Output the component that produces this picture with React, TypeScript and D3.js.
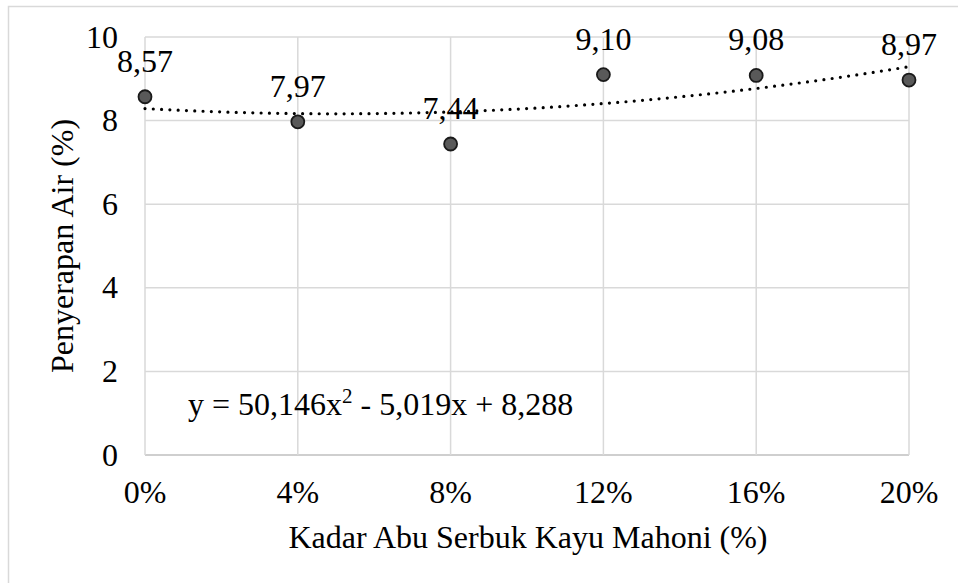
import * as d3 from "d3";
import { useEffect, useRef } from "react";

const kadar = [0, 0.04, 0.08, 0.12, 0.16, 0.2];
const penyerapan = [8.57, 7.97, 7.44, 9.1, 9.08, 8.97];
const yTicks = [0, 2, 4, 6, 8, 10];
const xTicks = [0, 0.04, 0.08, 0.12, 0.16, 0.2];
// trendline coefficients as printed on the chart
const coefA = 50.146;
const coefB = -5.019;
const coefC = 8.288;

const W = 958;
const H = 583;
const FONT = "'Liberation Serif', 'Times New Roman', serif";
const FS = 32;

const fmt = (v: number) => v.toFixed(2).replace(".", ",");
const comma = (v: number) => String(v).replace(".", ",");

export default function App() {
  const ref = useRef<SVGSVGElement>(null);

  useEffect(() => {
    const svg = d3.select(ref.current);
    svg.selectAll("*").remove();

    const left = 145, right = 909, top = 37, bottom = 455;

    const x = d3.scaleLinear().domain([0, 0.2]).range([left, right]);
    const y = d3.scaleLinear().domain([0, 10]).range([bottom, top]);

    svg.append("rect").attr("width", W).attr("height", H).attr("fill", "#fff");
    // outer chart frame
    svg.append("rect")
      .attr("x", 8.5).attr("y", 6.5)
      .attr("width", 980).attr("height", 620)
      .attr("fill", "none").attr("stroke", "#d9d9d9").attr("stroke-width", 1.5);

    // gridlines
    const g = svg.append("g");
    g.selectAll(".hg").data(yTicks).enter().append("line")
      .attr("x1", left).attr("x2", right)
      .attr("y1", (d) => y(d)).attr("y2", (d) => y(d))
      .attr("stroke", (d) => (d === 0 ? "#bfbfbf" : "#d9d9d9"))
      .attr("stroke-width", 1.5);
    g.selectAll(".vg").data(xTicks).enter().append("line")
      .attr("y1", top).attr("y2", bottom)
      .attr("x1", (d) => x(d)).attr("x2", (d) => x(d))
      .attr("stroke", "#d9d9d9").attr("stroke-width", 1.5);

    // tick labels
    svg.selectAll(".yl").data(yTicks).enter().append("text")
      .attr("x", 118).attr("y", (d) => y(d))
      .attr("dy", "0.33em").attr("text-anchor", "end")
      .attr("font-family", FONT).attr("font-size", FS).attr("fill", "#000")
      .text((d) => d);
    svg.selectAll(".xl").data(xTicks).enter().append("text")
      .attr("x", (d) => x(d)).attr("y", 503)
      .attr("text-anchor", "middle")
      .attr("font-family", FONT).attr("font-size", FS).attr("fill", "#000")
      .text((d) => Math.round(d * 100) + "%");

    // axis titles
    svg.append("text")
      .attr("x", 528).attr("y", 548).attr("text-anchor", "middle")
      .attr("font-family", FONT).attr("font-size", FS).attr("fill", "#000")
      .text("Kadar Abu Serbuk Kayu Mahoni (%)");
    svg.append("text")
      .attr("transform", `translate(73, ${(top + bottom) / 2}) rotate(-90)`)
      .attr("text-anchor", "middle")
      .attr("font-family", FONT).attr("font-size", FS).attr("fill", "#000")
      .text("Penyerapan Air (%)");

    // polynomial trendline
    const trendX = d3.range(0, 0.2001, 0.002);
    const line = d3.line<number>()
      .x((d) => x(d))
      .y((d) => y(coefA * d * d + coefB * d + coefC));
    svg.append("path").datum(trendX)
      .attr("d", line)
      .attr("fill", "none").attr("stroke", "#000")
      .attr("stroke-width", 3.2).attr("stroke-linecap", "round")
      .attr("stroke-dasharray", "0 8.3");

    // points
    const pts = kadar.map((k, i) => ({ k, v: penyerapan[i] }));
    svg.selectAll(".pt").data(pts).enter().append("circle")
      .attr("cx", (d) => x(d.k)).attr("cy", (d) => y(d.v))
      .attr("r", 6.5)
      .attr("fill", "#595959").attr("stroke", "#1a1a1a").attr("stroke-width", 1.8);

    // data labels
    svg.selectAll(".dl").data(pts).enter().append("text")
      .attr("x", (d) => x(d.k)).attr("y", (d) => y(d.v) - 25)
      .attr("text-anchor", "middle")
      .attr("font-family", FONT).attr("font-size", FS).attr("fill", "#000")
      .text((d) => fmt(d.v));

    // equation
    const eq = svg.append("text")
      .attr("x", 188).attr("y", 415)
      .attr("font-family", FONT).attr("font-size", FS).attr("fill", "#000");
    eq.append("tspan").text(`y = ${comma(coefA)}x`);
    eq.append("tspan").attr("font-size", 21).attr("dy", -12).text("2");
    eq.append("tspan").attr("dy", 12)
      .text(` - ${comma(Math.abs(coefB))}x + ${comma(coefC)}`);
  }, []);

  return (
    <svg
      ref={ref}
      width={W}
      height={H}
      style={{ position: "absolute", left: 0, top: 0 }}
    />
  );
}
